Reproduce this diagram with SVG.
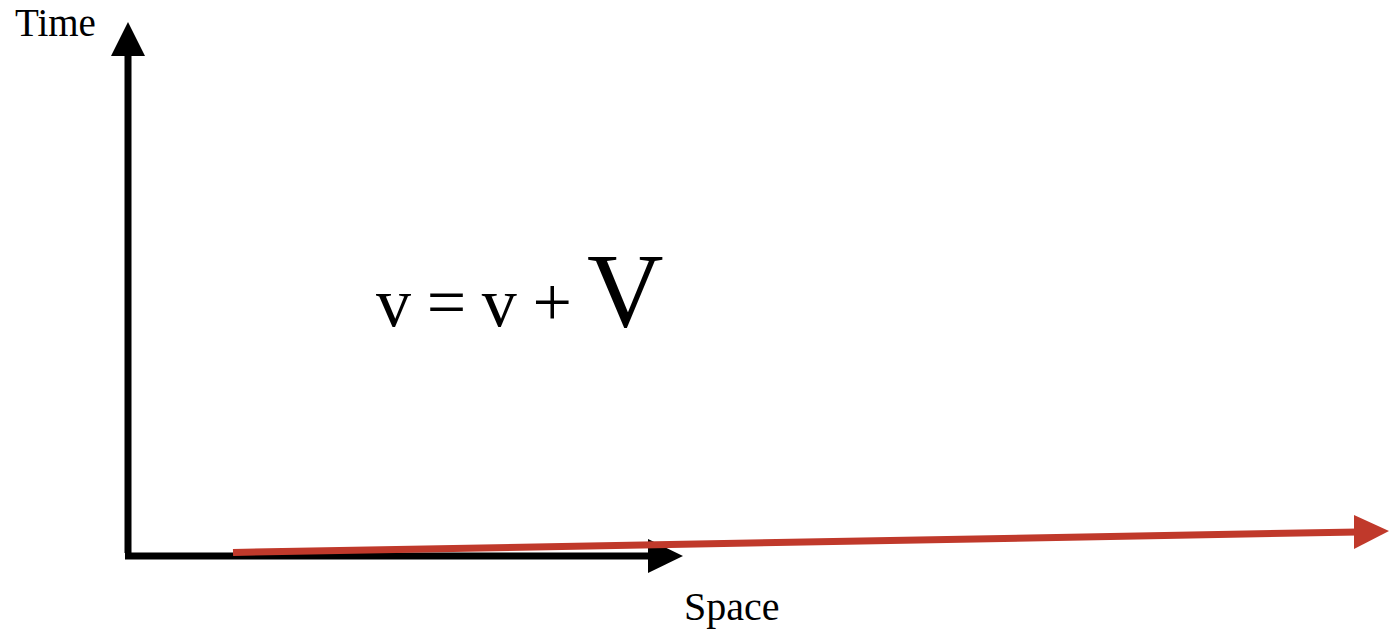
<svg xmlns="http://www.w3.org/2000/svg" width="1389" height="629" viewBox="0 0 1389 629">
<style>
.t{font-family:"Liberation Serif","Times New Roman",serif;fill:#000}
.ax{stroke:#000;stroke-width:7;fill:none}
.red{stroke:#c0392b;stroke-width:7;fill:none}
</style>
<rect width="1389" height="629" fill="#fff"/>
<g id="connectors">
<line class="ax" x1="128" y1="553" x2="128" y2="52"/>
<polygon points="128,22 145,56 111,56" fill="#000"/>
<line class="ax" x1="125" y1="556" x2="652" y2="556"/>
<polygon points="683,556 648,539 648,573" fill="#000"/>
<line class="red" x1="233" y1="552.5" x2="1358" y2="532"/>
<polygon points="1389,531 1354,515 1354,549" fill="#c0392b"/>
</g>
<g id="time-label"><text class="t" x="15" y="36" font-size="39">Time</text></g>
<g id="space-label"><text class="t" x="684" y="620" font-size="40">Space</text></g>
<g id="formula"><text class="t" x="376" y="326" font-size="70" textLength="196" lengthAdjust="spacing">v = v +</text><text class="t" x="587" y="326" font-size="106">V</text></g>
</svg>
